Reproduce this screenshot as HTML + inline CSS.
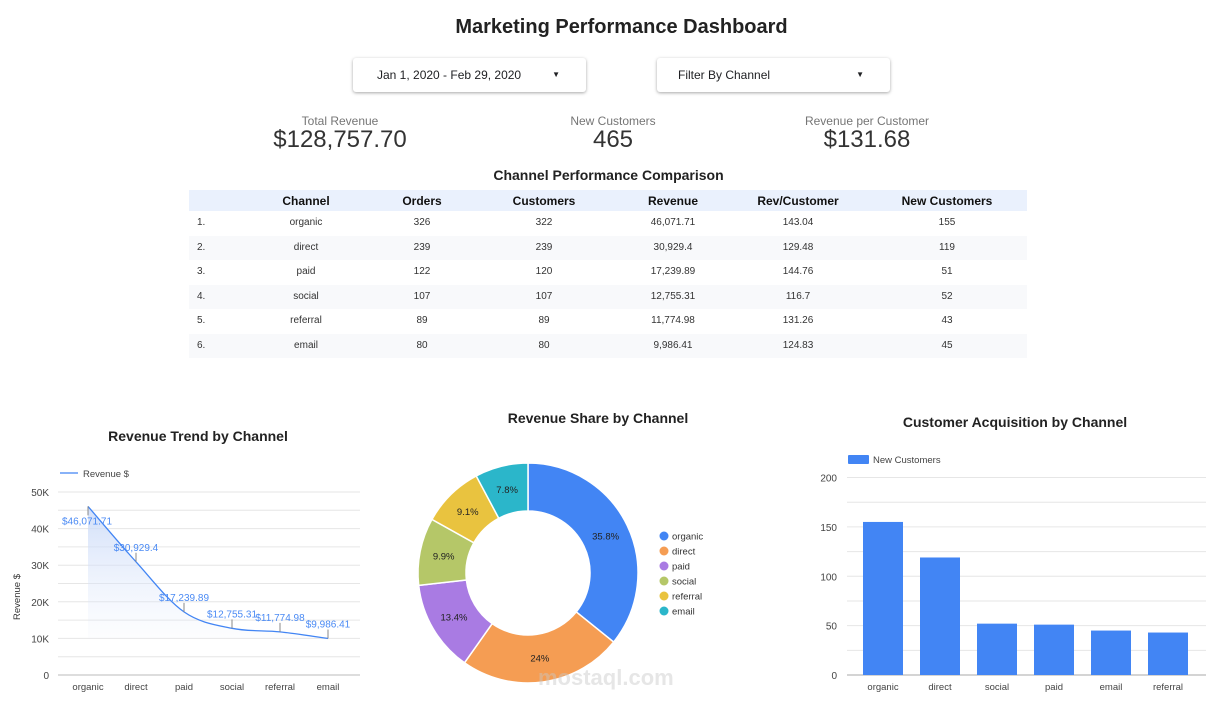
<!DOCTYPE html>
<html><head><meta charset="utf-8">
<style>
body{margin:0;width:1227px;height:707px;background:#fff;font-family:"Liberation Sans",Arial,sans-serif;position:relative;overflow:hidden;color:#202124}
.abs{position:absolute}
.btn{position:absolute;top:58px;height:34px;width:233px;background:#fff;border-radius:3px;box-shadow:0 1px 3px rgba(0,0,0,.35);font-size:12px;line-height:34px;color:#202124}
.btn .car{position:absolute;right:26px;top:0;font-size:8px}
.kpi{position:absolute;top:114px;width:240px;text-align:center}
.kpi .l{font-size:12px;color:#757575}
.kpi .v{font-size:24px;color:#333;line-height:24px}
table{position:absolute;left:189px;top:190px;width:838px;border-collapse:collapse;font-size:10px;color:#333;table-layout:fixed}
th{height:21px;padding:0;background:#eaf1fd;font-size:12px;font-weight:bold;color:#111}
td{height:24.5px;padding:0;line-height:24px;text-align:center}
tr:nth-child(odd) td{background:#f8f9fb}
.t{position:absolute;font-weight:bold;font-size:15px;color:#222;text-align:center}
</style></head><body>
<div class="t" style="left:0;width:1243px;top:16px;font-size:20px">Marketing Performance Dashboard</div>
<div class="btn" style="left:353px"><span style="padding-left:24px">Jan 1, 2020 - Feb 29, 2020</span><span class="car">▼</span></div>
<div class="btn" style="left:657px"><span style="padding-left:21px">Filter By Channel</span><span class="car">▼</span></div>
<div class="kpi" style="left:220px"><div class="l">Total Revenue</div><div class="v">$128,757.70</div></div>
<div class="kpi" style="left:493px"><div class="l">New Customers</div><div class="v">465</div></div>
<div class="kpi" style="left:747px"><div class="l">Revenue per Customer</div><div class="v">$131.68</div></div>
<div class="t" style="left:400px;width:417px;top:167px;font-size:14px">Channel Performance Comparison</div>
<table>
<tr><th style="width:50px"></th><th style="width:134px">Channel</th><th style="width:98px">Orders</th><th style="width:146px">Customers</th><th style="width:112px">Revenue</th><th style="width:138px">Rev/Customer</th><th>New Customers</th></tr>
<tr><td style="text-align:left;padding-left:8px">1.</td><td>organic</td><td>326</td><td>322</td><td>46,071.71</td><td>143.04</td><td>155</td></tr>
<tr><td style="text-align:left;padding-left:8px">2.</td><td>direct</td><td>239</td><td>239</td><td>30,929.4</td><td>129.48</td><td>119</td></tr>
<tr><td style="text-align:left;padding-left:8px">3.</td><td>paid</td><td>122</td><td>120</td><td>17,239.89</td><td>144.76</td><td>51</td></tr>
<tr><td style="text-align:left;padding-left:8px">4.</td><td>social</td><td>107</td><td>107</td><td>12,755.31</td><td>116.7</td><td>52</td></tr>
<tr><td style="text-align:left;padding-left:8px">5.</td><td>referral</td><td>89</td><td>89</td><td>11,774.98</td><td>131.26</td><td>43</td></tr>
<tr><td style="text-align:left;padding-left:8px">6.</td><td>email</td><td>80</td><td>80</td><td>9,986.41</td><td>124.83</td><td>45</td></tr>
</table>
<div class="t" style="left:60px;width:276px;top:428px;font-size:14px">Revenue Trend by Channel</div>
<div class="t" style="left:460px;width:276px;top:410px;font-size:14px">Revenue Share by Channel</div>
<div class="t" style="left:870px;width:290px;top:414px;font-size:14px">Customer Acquisition by Channel</div>
<svg id="svg" class="abs" style="left:0;top:0" width="1227" height="707" font-family="Liberation Sans, Arial, sans-serif">
<defs><linearGradient id="ag" x1="0" y1="0" x2="0" y2="1"><stop offset="0" stop-color="#c9d9f8" stop-opacity=".85"/><stop offset="1" stop-color="#e4ecfb" stop-opacity=".1"/></linearGradient></defs>
</svg>
<div class="abs" style="left:538px;top:665px;font-size:22px;font-weight:bold;color:rgba(200,200,200,.45)">mostaql.com</div>
<script>
const lineCats=["organic","direct","paid","social","referral","email"];
const lineVals=[46071.71,30929.4,17239.89,12755.31,11774.98,9986.41];
const lineLabels=["$46,071.71","$30,929.4","$17,239.89","$12,755.31","$11,774.98","$9,986.41"];
const lineTicks=[0,10000,20000,30000,40000,50000];
const lineTickLabels=["0","10K","20K","30K","40K","50K"];
const pieCats=["organic","direct","paid","social","referral","email"];
const pieVals=[35.8,24,13.4,9.9,9.1,7.8];
const pieLabels=["35.8%","24%","13.4%","9.9%","9.1%","7.8%"];
const barCats=["organic","direct","social","paid","email","referral"];
const barVals=[155,119,52,51,45,43];
const barTicks=[0,50,100,150,200];
const S=document.getElementById('svg'),NS='http://www.w3.org/2000/svg';
function mk(t,a,txt){const e=document.createElementNS(NS,t);for(const k in a)e.setAttribute(k,a[k]);if(txt!=null)e.textContent=txt;S.appendChild(e);return e;}
const lx=i=>88+i*48, ly=v=>675-v/50000*183;
for(let v=0;v<=50000;v+=5000){const g=mk('line',{x1:58,x2:360,y1:ly(v),y2:ly(v),stroke:v==0?'#bbb':'#e6e6e6','stroke-width':1});}
lineTicks.forEach((v,i)=>{const t=mk('text',{x:49,y:ly(v)+4,'font-size':10,fill:'#444','text-anchor':'end'},lineTickLabels[i]);});
lineCats.forEach((c,i)=>{const t=mk('text',{x:lx(i),y:690,'font-size':9.5,fill:'#444','text-anchor':'middle'},c);});
const yt=mk('text',{x:20,y:597,'font-size':9.5,fill:'#333','text-anchor':'middle',transform:'rotate(-90 20 597)'},'Revenue $');
const P=lineVals.map((v,i)=>[lx(i),ly(v)]);
let d='M'+P[0][0]+','+P[0][1];
for(let i=0;i<P.length-1;i++){const p0=P[Math.max(0,i-1)],p1=P[i],p2=P[i+1],p3=P[Math.min(P.length-1,i+2)];
d+=' C'+(p1[0]+(p2[0]-p0[0])/6)+','+(p1[1]+(p2[1]-p0[1])/6)+' '+(p2[0]-(p3[0]-p1[0])/6)+','+(p2[1]-(p3[1]-p1[1])/6)+' '+p2[0]+','+p2[1];}
const ar=mk('path',{d:d+' L'+P[P.length-1][0]+','+ly(10000)+' L'+P[0][0]+','+ly(10000)+' Z',fill:'url(#ag)'});
const ln=mk('path',{d:d,fill:'none',stroke:'#4285f4','stroke-width':1.3});
P.forEach((p,i)=>{const below=i==0;const y2=below?p[1]+9:p[1]-9;
const tk=mk('line',{x1:p[0],x2:p[0],y1:p[1],y2:y2,stroke:'#888','stroke-width':1});
const tx=mk('text',{x:p[0]-(i==0?1:0),y:below?p[1]+18:p[1]-11,'font-size':10,fill:'#4a8af4','text-anchor':'middle'},lineLabels[i]);});
const lg=mk('line',{x1:60,x2:78,y1:473,y2:473,stroke:'#4285f4','stroke-width':1.3});
const lgt=mk('text',{x:83,y:477,'font-size':9.5,fill:'#444'},'Revenue $');
const cols=['#4285f4','#f59d53','#a97be3','#b5c768','#e9c33f','#2bb6ca'];
const cx=528,cy=573,R=110,r=62;const tot=pieVals.reduce((a,b)=>a+b,0);let a0=-Math.PI/2;
pieVals.forEach((v,i)=>{const a1=a0+v/tot*2*Math.PI,lg=(a1-a0)>Math.PI?1:0;
const pt=(rr,a)=>(cx+rr*Math.cos(a))+','+(cy+rr*Math.sin(a));
const s=mk('path',{d:'M'+pt(R,a0)+' A'+R+','+R+' 0 '+lg+' 1 '+pt(R,a1)+' L'+pt(r,a1)+' A'+r+','+r+' 0 '+lg+' 0 '+pt(r,a0)+' Z',fill:cols[i],stroke:'#fff','stroke-width':1.5});

const am=(a0+a1)/2,rm=(R+r)/2;
const t=mk('text',{x:cx+rm*Math.cos(am),y:cy+rm*Math.sin(am)+3.5,'font-size':9.5,fill:'#222','text-anchor':'middle'},pieLabels[i]);
const c=mk('circle',{cx:664,cy:536+i*15,r:4.5,fill:cols[i]});
const lt=mk('text',{x:672,y:539.5+i*15,'font-size':9.5,fill:'#333'},pieCats[i]);
a0=a1;});
const bx=i=>883+i*57, by=v=>675-v/200*197.5;
for(let v=0;v<=200;v+=25){const g=mk('line',{x1:847,x2:1206,y1:by(v),y2:by(v),stroke:v==0?'#aaa':'#e6e6e6','stroke-width':1});}
barTicks.forEach(v=>{const t=mk('text',{x:837,y:by(v)+4,'font-size':10,fill:'#444','text-anchor':'end'},String(v));});
barCats.forEach((c,i)=>{const b=mk('rect',{x:bx(i)-20,y:by(barVals[i]),width:40,height:by(0)-by(barVals[i]),fill:'#4285f4'});
const t=mk('text',{x:bx(i),y:690,'font-size':9.5,fill:'#444','text-anchor':'middle'},c);});
const bl=mk('rect',{x:848,y:455,width:21,height:9,fill:'#4285f4',rx:1});
const blt=mk('text',{x:873,y:463,'font-size':9.5,fill:'#444'},'New Customers');
</script>
</body></html>
